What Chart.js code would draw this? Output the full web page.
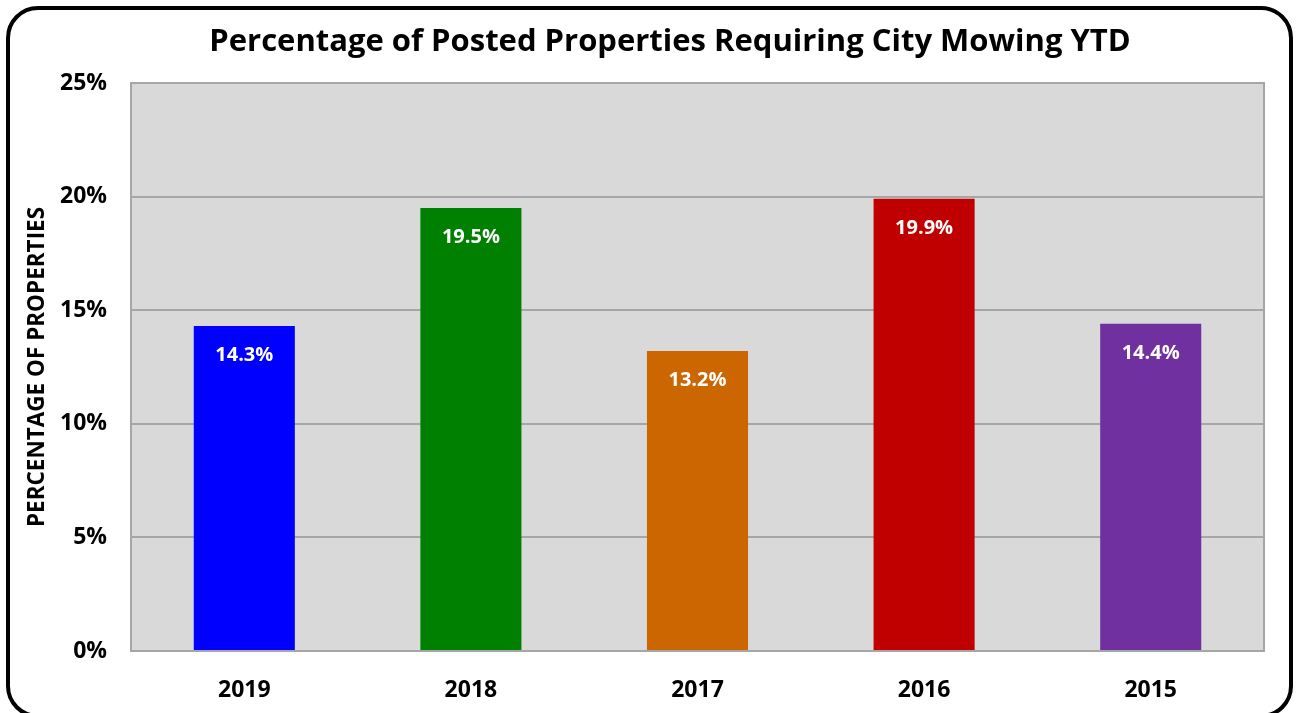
<!DOCTYPE html>
<html>
<head>
<meta charset="utf-8">
<script src="https://cdn.jsdelivr.net/npm/chart.js@4"></script>
<style>
  html, body { margin: 0; padding: 0; background: #fff; }
  #wrap { position: relative; width: 1297px; height: 713px; overflow: hidden; }
  #frame { position: absolute; left: 6px; top: 6px; width: 1279px; height: 704px;
           border: 4px solid #000; border-radius: 32px; pointer-events: none; }
  canvas { position: absolute; left: 0; top: 0; }
</style>
</head>
<body>
<div id="wrap">
  <canvas id="chart" width="1297" height="713"></canvas>
  <div id="frame"></div>
</div>
<script>
const years = ["2019", "2018", "2017", "2016", "2015"];
const pct = [14.3, 19.5, 13.2, 19.9, 14.4];
const barColors = ["#0000ff", "#008000", "#cc6600", "#c00000", "#7030a0"];
const yTicks = [0, 5, 10, 15, 20, 25];
const chartTitle = "Percentage of Posted Properties Requiring City Mowing YTD";

const FONT = "'Open Sans', sans-serif";

// gray plot background + frame, and the title (centred a bit right, like the original)
const plotBg = {
  id: "plotBg",
  beforeDraw(chart) {
    const a = chart.chartArea, ctx = chart.ctx;
    ctx.save();
    ctx.fillStyle = "#d9d9d9";
    ctx.fillRect(a.left, a.top, a.right - a.left, a.bottom - a.top);
    ctx.restore();
  },
  afterDraw(chart) {
    const a = chart.chartArea, ctx = chart.ctx;
    ctx.save();
    ctx.strokeStyle = "#a6a6a6";
    ctx.lineWidth = 2;
    ctx.strokeRect(a.left, a.top, a.right - a.left, a.bottom - a.top);
    ctx.fillStyle = "#000";
    ctx.font = "bold 31px " + FONT;
    ctx.textAlign = "center";
    ctx.textBaseline = "middle";
    ctx.fillText(chartTitle, 670, 42);
    ctx.restore();
  }
};

// white value labels inside bar tops
const barLabels = {
  id: "barLabels",
  afterDatasetsDraw(chart) {
    const ctx = chart.ctx;
    const meta = chart.getDatasetMeta(0);
    ctx.save();
    ctx.fillStyle = "#fff";
    ctx.font = "bold 20px " + FONT;
    ctx.textAlign = "center";
    ctx.textBaseline = "middle";
    meta.data.forEach((bar, i) => {
      ctx.fillText(pct[i].toFixed(1) + "%", bar.x, bar.y + 29);
    });
    ctx.restore();
  }
};

new Chart(document.getElementById("chart").getContext("2d"), {
  type: "bar",
  data: {
    labels: years,
    datasets: [{
      data: pct,
      backgroundColor: barColors,
      borderWidth: 0,
      categoryPercentage: 1,
      barPercentage: 0.446
    }]
  },
  options: {
    responsive: false,
    animation: false,
    layout: { padding: { top: 83, right: 33, left: 20, bottom: 0 } },
    plugins: {
      legend: { display: false },
      tooltip: { enabled: false },
      title: { display: false }
    },
    scales: {
      x: {
        grid: { display: false },
        border: { display: false },
        ticks: {
          color: "#000",
          font: { family: FONT, size: 23, weight: "bold" },
          padding: 18
        },
        afterFit(s) { s.height = 62; }
      },
      y: {
        min: 0,
        max: 25,
        afterBuildTicks(s) { s.ticks = yTicks.map(v => ({ value: v })); },
        grid: { color: "#a6a6a6", lineWidth: 2, drawTicks: false },
        border: { display: false },
        ticks: {
          color: "#000",
          font: { family: FONT, size: 23, weight: "bold" },
          padding: 24,
          callback: v => v + "%"
        },
        title: {
          display: true,
          text: "PERCENTAGE OF PROPERTIES",
          color: "#000",
          font: { family: FONT, size: 22.5, weight: "bold" },
          padding: { top: 4, bottom: 0 }
        },
        afterFit(s) { s.width = 111; }
      }
    }
  },
  plugins: [plotBg, barLabels]
});
</script>
</body>
</html>
